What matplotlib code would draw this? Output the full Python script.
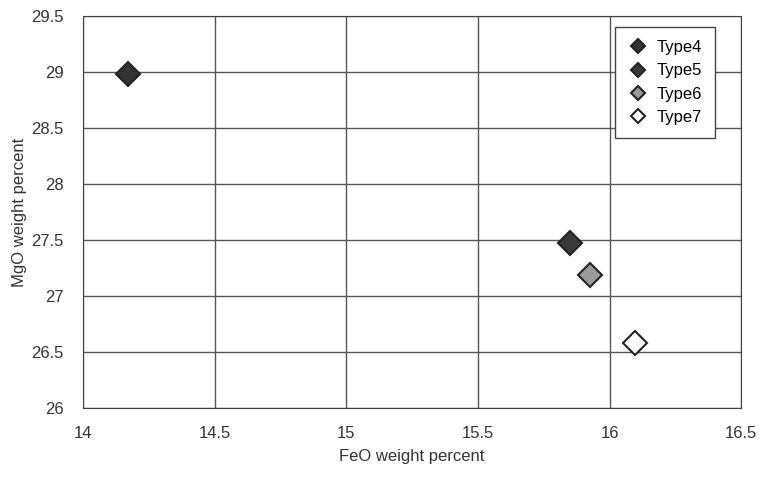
import matplotlib
matplotlib.use("Agg")
import matplotlib.pyplot as plt

plt.rcParams['font.family'] = ['Liberation Sans', 'DejaVu Sans']

types = ["Type4", "Type5", "Type6", "Type7"]
feo = [14.17, 15.85, 15.925, 16.095]
mgo = [28.98, 27.47, 27.19, 26.58]
faces = ["#333333", "#3a3a3a", "#999999", "white"]

fig = plt.figure(figsize=(7.61, 4.79), dpi=100)
ax = fig.add_axes([0.109, 0.148, 0.865, 0.819])

for name, x, y, fc in zip(types, feo, mgo, faces):
    ax.plot(x, y, linestyle="none", marker="D", markersize=12, markerfacecolor=fc,
            markeredgecolor="#222222", markeredgewidth=1.5, label=name)

ax.set_xlim(14, 16.5)
ax.set_ylim(26, 29.5)
ax.set_xticks([14, 14.5, 15, 15.5, 16, 16.5])
ax.set_xticklabels(["14", "14.5", "15", "15.5", "16", "16.5"])
ax.set_yticks([26, 26.5, 27, 27.5, 28, 28.5, 29, 29.5])
ax.set_yticklabels(["26", "26.5", "27", "27.5", "28", "28.5", "29", "29.5"])
ax.grid(True, color="#555555", linewidth=1)
ax.set_axisbelow(True)
for s in ax.spines.values():
    s.set_color("#444444")
ax.tick_params(length=0, labelsize=12, labelcolor="#333333")
ax.tick_params(axis="x", pad=13)
ax.tick_params(axis="y", pad=14)
ax.set_xlabel("FeO weight percent", fontsize=12, labelpad=6, color="#333333")
ax.set_ylabel("MgO weight percent", fontsize=12, labelpad=3, color="#333333")

leg = ax.legend(loc="upper right", bbox_to_anchor=(0.9605, 0.972), borderaxespad=0,
                fontsize=12, markerscale=0.6, handlelength=1.2, handletextpad=0.5,
                fancybox=False, framealpha=1, edgecolor="#444444",
                borderpad=0.8, labelspacing=0.5)
leg.get_frame().set_linewidth(1)

fig.savefig("out.png", dpi=100)
